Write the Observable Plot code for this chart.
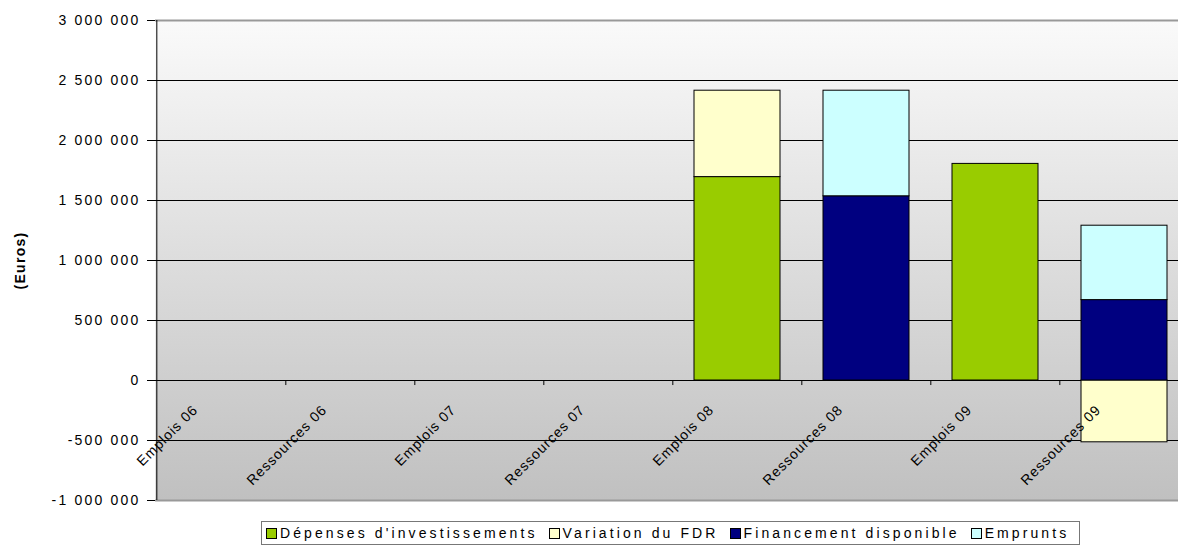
<!DOCTYPE html>
<html>
<head>
<meta charset="utf-8">
<script src="https://cdn.jsdelivr.net/npm/d3@7"></script>
<script src="https://cdn.jsdelivr.net/npm/@observablehq/plot@0.6"></script>
<style>
  html, body { margin: 0; background: #fff; font-family: "Liberation Sans", Arial, sans-serif; overflow: hidden; }
  #chart svg { display: block; }
  g[aria-label="y-axis tick label"] text { letter-spacing: 2.2px; }
  .xlab text { letter-spacing: 1px; }
  .ylab text { letter-spacing: 1.3px; }
  #legend { display: inline-flex; align-items: center; margin: 9px 0 0 261px; border: 1px solid #777;
            padding: 3px 10px 3px 4px; font-size: 14px; letter-spacing: 3.1px; color: #000; white-space: nowrap; line-height: 16px; }
  #legend .item { display: inline-flex; align-items: center; margin-right: 11px; }
  #legend .item:last-child { margin-right: 0; }
  #legend .sw { display: inline-block; width: 9px; height: 9px; border: 1px solid #000; margin-right: 3px; }
</style>
</head>
<body>
<div id="chart"></div>
<script>
const categories = ["Emplois 06", "Ressources 06", "Emplois 07", "Ressources 07", "Emplois 08", "Ressources 08", "Emplois 09", "Ressources 09"];
const seriesNames = ["Dépenses d'investissements", "Variation du FDR", "Financement disponible", "Emprunts"];
const seriesColors = ["#99cc00", "#ffffcc", "#000080", "#ccffff"];
const depenses     = [null, null, null, null, 1695000, null, 1805000, null];
const variationFDR = [null, null, null, null, 720000, null, null, -515000];
const financement  = [null, null, null, null, null, 1535000, null, 670000];
const emprunts     = [null, null, null, null, null, 880000, null, 620000];
const yTicks = [-1000000, -500000, 0, 500000, 1000000, 1500000, 2000000, 2500000, 3000000];
const yLabel = "(Euros)";

const seriesValues = [depenses, variationFDR, financement, emprunts];
const rows = [];
seriesNames.forEach((s, k) => {
  seriesValues[k].forEach((v, i) => {
    if (v != null) rows.push({category: categories[i], series: s, value: v});
  });
});

const fmt = d3.formatLocale({decimal: ",", thousands: " ", grouping: [3], currency: ["", " €"], minus: "-"}).format(",");

const W = 1178, mL = 155, mR = -12;
const halfStep = (W - mR - mL) / categories.length / 2;
const yMin = yTicks[0], yMax = yTicks[yTicks.length - 1];

const plot = Plot.plot({
  width: W,
  height: 512,
  marginTop: 20,
  marginBottom: 12,
  marginLeft: mL,
  marginRight: mR,
  style: {fontFamily: "'Liberation Sans', Arial, sans-serif", fontSize: "14px", color: "#000", background: "transparent"},
  x: {domain: categories, paddingInner: 0.33, paddingOuter: 0.165, axis: null},
  y: {domain: [yMin, yMax], axis: null},
  color: {domain: seriesNames, range: seriesColors},
  marks: [
    Plot.frame({fill: "url(#bgGrad)", stroke: null}),
    Plot.gridY(yTicks.filter(t => t > yMin && t < yMax), {stroke: "#000", strokeOpacity: 1}),
    Plot.ruleY([yMin, yMax], {stroke: "#999", strokeWidth: 2}),
    Plot.axisY({ticks: yTicks, tickSize: 8, tickPadding: 7, tickFormat: fmt, label: null, stroke: "#000", fontSize: 14}),
    Plot.ruleX([categories[0]], {dx: -halfStep, y1: yMin, y2: yMax, stroke: "#000"}),
    Plot.ruleY([0], {stroke: "#000"}),
    Plot.ruleX(categories.slice(1), {x: d => d, y1: 0, y2: -42000, dx: -halfStep, stroke: "#000"}),
    Plot.barY(rows, {x: "category", y: "value", fill: "series", stroke: "#000", strokeWidth: 1}),
    Plot.text(categories, {x: d => d, y: () => 0, rotate: -45, textAnchor: "end", dx: -26, dy: 27, fontSize: 14, className: "xlab"}),
    Plot.text([yLabel], {frameAnchor: "left", textAnchor: "middle", dx: -135, rotate: -90, fontWeight: "bold", fontSize: 14, className: "ylab"})
  ]
});

const ns = "http://www.w3.org/2000/svg";
const defs = document.createElementNS(ns, "defs");
const grad = document.createElementNS(ns, "linearGradient");
grad.setAttribute("id", "bgGrad");
grad.setAttribute("x1", "0"); grad.setAttribute("y1", "0");
grad.setAttribute("x2", "0"); grad.setAttribute("y2", "1");
[["0", "#fafafa"], ["1", "#c0c0c0"]].forEach(([o, c]) => {
  const st = document.createElementNS(ns, "stop");
  st.setAttribute("offset", o); st.setAttribute("stop-color", c);
  grad.appendChild(st);
});
defs.appendChild(grad);
plot.insertBefore(defs, plot.firstChild);

document.getElementById("chart").appendChild(plot);

const legend = document.createElement("div");
legend.id = "legend";
seriesNames.forEach((s, k) => {
  const item = document.createElement("span");
  item.className = "item";
  const sw = document.createElement("span");
  sw.className = "sw";
  sw.style.background = seriesColors[k];
  const t = document.createElement("span");
  t.textContent = s;
  item.appendChild(sw); item.appendChild(t);
  legend.appendChild(item);
});
document.getElementById("chart").appendChild(legend);
</script>
</body>
</html>
